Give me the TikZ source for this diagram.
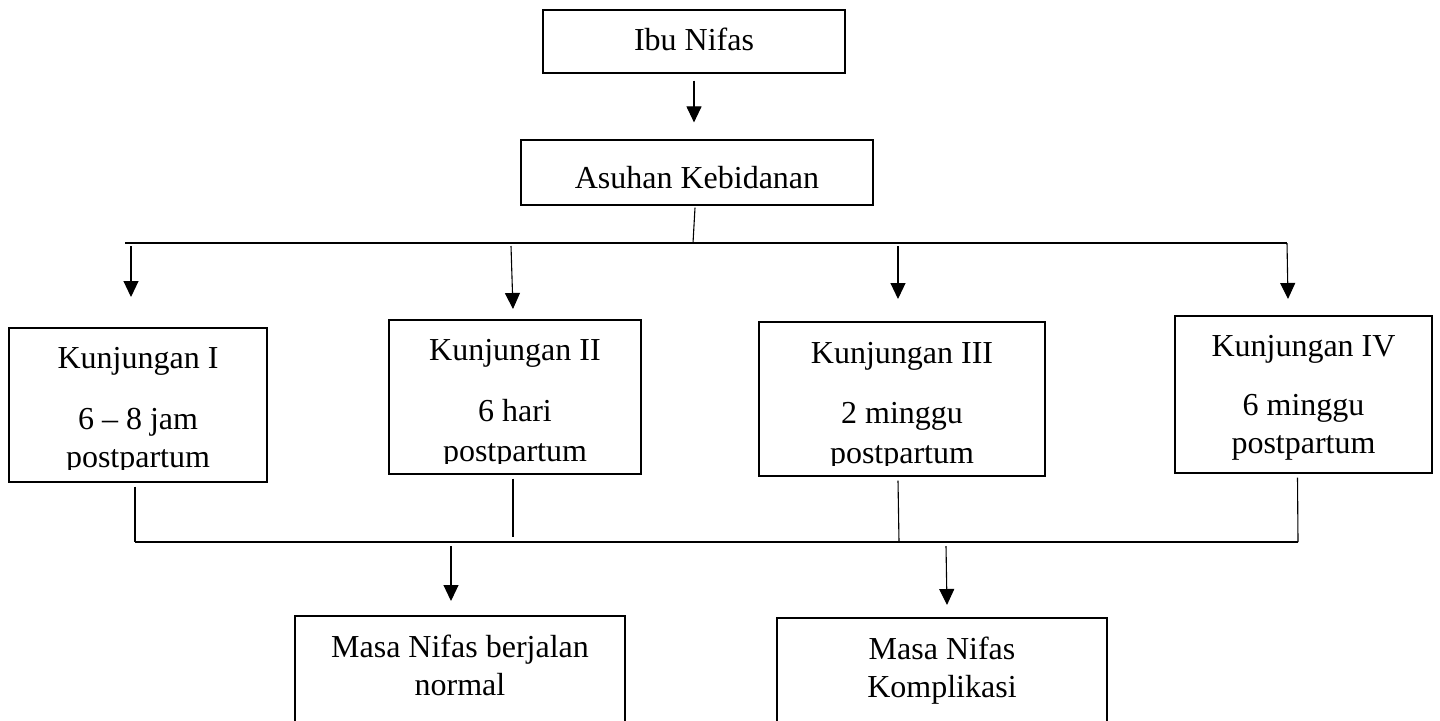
\documentclass[tikz,border=0pt]{standalone}
\usepackage{fontspec}
\setmainfont{Liberation Serif}
\usetikzlibrary{arrows.meta}
\tikzset{
	box/.style={draw, line width=0.6pt, inner sep=0pt},
	txt/.style={anchor=base, inner sep=0pt, font=\fontsize{16}{19}\selectfont},
	arr/.style={-{Triangle[width=7.5pt,length=8pt]}, line width=0.55pt},
	ln/.style={line width=0.55pt}
}
\begin{document}
\begin{tikzpicture}[x=0.5pt,y=-0.5pt]
	\useasboundingbox (0,0) rectangle (1440,720);
	\clip (0,0) rectangle (1440,720);
	% boxes
	\node[box, minimum width=151pt, minimum height=31.5pt] (ibu) at (694,41.5) {};
	\node[box, minimum width=176pt, minimum height=32.5pt] (asuhan) at (697,172.5) {};
	\node[box, minimum width=129pt, minimum height=77pt] (k1) at (138,405) {};
	\node[box, minimum width=126pt, minimum height=77pt] (k2) at (515,397) {};
	\node[box, minimum width=143pt, minimum height=77pt] (k3) at (902,399) {};
	\node[box, minimum width=128.5pt, minimum height=78.5pt] (k4) at (1303.5,394.5) {};
	\node[box, minimum width=165pt, minimum height=87pt] (m1) at (460,703) {};
	\node[box, minimum width=165pt, minimum height=86pt] (m2) at (942,704) {};
	% texts
	\node[txt] (ibut) at (694,50) {Ibu Nifas};
	\node[txt] (asuhant) at (697,188) {Asuhan Kebidanan};
	\node[txt] (k1a) at (138,368) {Kunjungan I};
	\node[txt] (k1b) at (138,429) {6 -- 8 jam};
	\node[txt] (k2a) at (515,360) {Kunjungan II};
	\node[txt] (k2b) at (515,421) {6 hari};
	\node[txt] (k3a) at (902,363) {Kunjungan III};
	\node[txt] (k3b) at (902,423) {2 minggu};
	\node[txt] (k4a) at (1303.5,356) {Kunjungan IV};
	\node[txt] (k4b) at (1303.5,415) {6 minggu};
	\node[txt] (k4c) at (1303.5,453) {postpartum};
	\begin{scope}
		\clip (k1.north west) rectangle (267,469);
		\node[txt] (k1c) at (138,467) {postpartum};
	\end{scope}
	\begin{scope}
		\clip (k2.north west) rectangle (641,463);
		\node[txt] (k2c) at (515,461) {postpartum};
	\end{scope}
	\begin{scope}
		\clip (k3.north west) rectangle (1046,465);
		\node[txt] (k3c) at (902,463) {postpartum};
	\end{scope}
	\node[txt] (m1a) at (460,657) {Masa Nifas berjalan};
	\node[txt] (m1b) at (460,695) {normal};
	\node[txt] (m2a) at (942,659) {Masa Nifas};
	\node[txt] (m2b) at (942,697) {Komplikasi};
	% top part
	\draw[arr] ([yshift=-3.5pt]ibu.south) -- ([yshift=8.5pt]ibu.south |- asuhan.north);
	\coordinate (tl) at (125,243);
	\coordinate (tr) at (1287,243);
	\draw[ln] (tl) -- (tr);
	\draw[ln] ([xshift=-1pt,yshift=-1pt]asuhan.south) -- (693,243);
	\coordinate (a1) at (131,297);
	\coordinate (a2) at (513,309);
	\coordinate (a3) at (898,299);
	\coordinate (a4) at (1288,299);
	\draw[arr] ([yshift=-1.5pt]a1 |- tl) -- (a1);
	\draw[arr] ([xshift=-1pt,yshift=-1.5pt]a2 |- tl) -- (a2);
	\draw[arr] ([yshift=-1.5pt]a3 |- tl) -- (a3);
	\draw[arr] (tr) -- (a4);
	% bottom part
	\coordinate (bl) at (135,542);
	\coordinate (br) at (1298,542);
	\draw[ln] (bl) -- (br);
	\draw[ln] ([yshift=-2pt]k1.south -| bl) -- (bl);
	\draw[ln] ([xshift=-1pt,yshift=-2pt]k2.south) -- ++(0,58);
	\draw[ln] ([xshift=-2pt,yshift=-2pt]k3.south) -- ([xshift=-1.5pt]k3.south |- bl);
	\draw[ln] ([xshift=-3pt,yshift=-2pt]k4.south) -- (br);
	\coordinate (a5) at (451,601);
	\coordinate (a6) at (947,605);
	\draw[arr] ([yshift=-2pt]a5 |- bl) -- (a5);
	\draw[arr] ([xshift=-0.5pt,yshift=-2pt]a6 |- bl) -- (a6);
\end{tikzpicture}
\end{document}
